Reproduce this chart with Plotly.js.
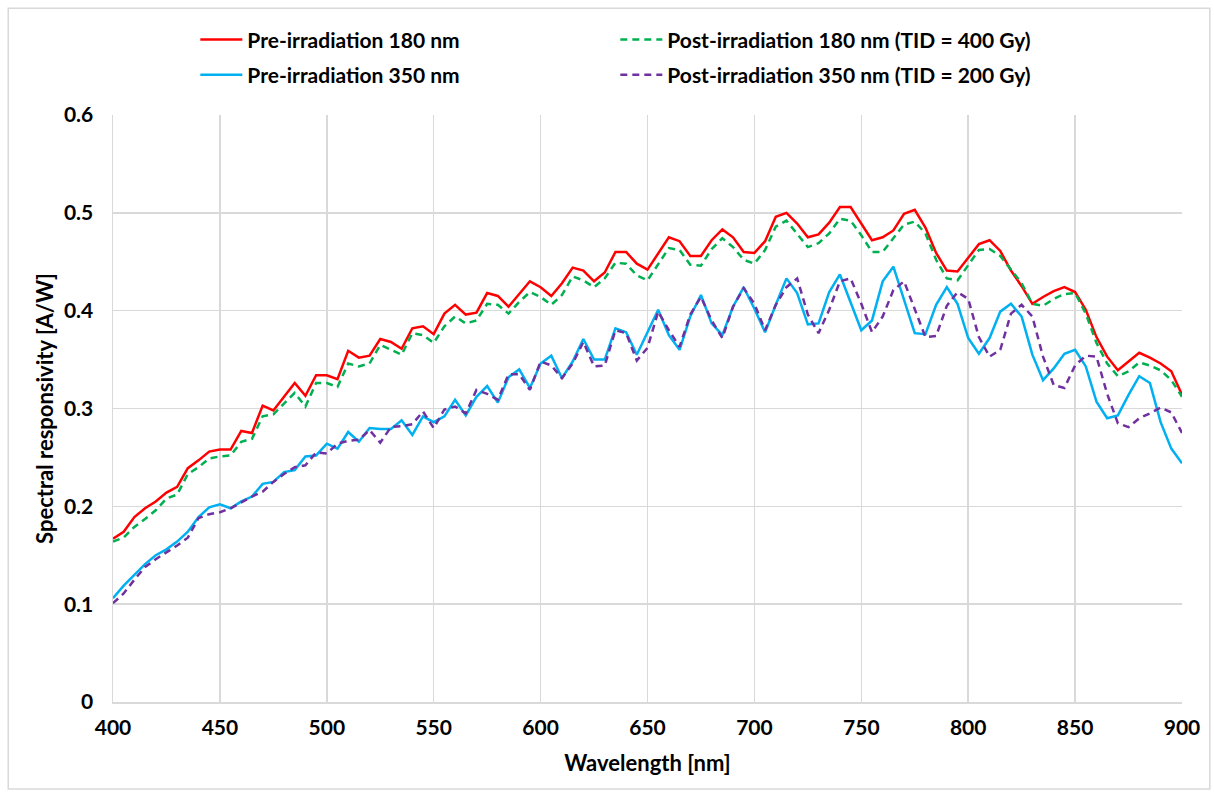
<!DOCTYPE html>
<html>
<head>
<meta charset="utf-8">
<script src="https://cdn.plot.ly/plotly-3.0.1.min.js"></script>
<style>
  html, body { margin: 0; padding: 0; background: #ffffff; }
  #chart { width: 1214px; height: 792px; }
</style>
</head>
<body>
<div id="chart"></div>
<script>
const wavelength = [400,405,410,415,420,425,430,435,440,445,450,455,460,465,470,475,480,485,490,495,
  500,505,510,515,520,525,530,535,540,545,550,555,560,565,570,575,580,585,590,595,
  600,605,610,615,620,625,630,635,640,645,650,655,660,665,670,675,680,685,690,695,
  700,705,710,715,720,725,730,735,740,745,750,755,760,765,770,775,780,785,790,795,
  800,805,810,815,820,825,830,835,840,845,850,855,860,865,870,875,880,885,890,895,900];

const pre180 = [0.167,0.174,0.189,0.198,0.205,0.214,0.220,0.239,0.247,0.256,0.258,0.258,0.277,0.275,0.303,0.298,0.312,0.326,0.313,0.334,
  0.334,0.330,0.359,0.352,0.354,0.371,0.368,0.361,0.382,0.384,0.376,0.397,0.406,0.396,0.398,0.418,0.415,0.404,0.417,0.430,
  0.424,0.415,0.428,0.444,0.441,0.430,0.439,0.460,0.460,0.448,0.442,0.459,0.475,0.471,0.456,0.456,0.472,0.483,0.475,0.460,
  0.459,0.471,0.496,0.500,0.489,0.475,0.478,0.490,0.506,0.506,0.489,0.472,0.475,0.482,0.499,0.503,0.485,0.459,0.441,0.440,
  0.454,0.468,0.472,0.461,0.441,0.425,0.407,0.414,0.420,0.424,0.419,0.401,0.373,0.353,0.339,0.348,0.357,0.352,0.346,0.338,0.314];

const post180 = [0.164,0.168,0.179,0.187,0.196,0.208,0.212,0.233,0.240,0.249,0.251,0.252,0.266,0.269,0.292,0.294,0.305,0.316,0.302,0.326,
  0.326,0.322,0.346,0.343,0.346,0.365,0.360,0.355,0.377,0.375,0.367,0.384,0.394,0.387,0.390,0.407,0.406,0.397,0.409,0.419,
  0.414,0.406,0.416,0.435,0.431,0.424,0.433,0.449,0.448,0.436,0.431,0.447,0.464,0.462,0.447,0.446,0.463,0.474,0.465,0.452,
  0.448,0.462,0.486,0.492,0.479,0.465,0.469,0.479,0.494,0.492,0.477,0.460,0.460,0.474,0.488,0.491,0.479,0.452,0.433,0.431,
  0.447,0.462,0.463,0.456,0.442,0.428,0.407,0.405,0.412,0.417,0.418,0.397,0.367,0.346,0.333,0.338,0.347,0.344,0.339,0.329,0.312];

const pre350 = [0.106,0.119,0.130,0.141,0.150,0.156,0.164,0.174,0.189,0.199,0.202,0.198,0.205,0.210,0.223,0.225,0.235,0.237,0.251,0.252,
  0.264,0.259,0.276,0.266,0.280,0.279,0.279,0.288,0.273,0.292,0.286,0.292,0.309,0.293,0.312,0.323,0.306,0.332,0.340,0.321,
  0.346,0.354,0.331,0.348,0.371,0.350,0.350,0.382,0.378,0.355,0.378,0.401,0.375,0.360,0.394,0.416,0.387,0.375,0.404,0.424,
  0.402,0.378,0.406,0.433,0.418,0.386,0.387,0.419,0.437,0.409,0.380,0.390,0.430,0.445,0.412,0.377,0.376,0.406,0.424,0.407,
  0.372,0.356,0.372,0.399,0.407,0.394,0.355,0.329,0.341,0.356,0.360,0.343,0.307,0.290,0.293,0.314,0.333,0.326,0.286,0.259,0.244];

const post350 = [0.101,0.111,0.125,0.138,0.146,0.153,0.160,0.168,0.188,0.192,0.194,0.198,0.204,0.210,0.215,0.225,0.233,0.240,0.242,0.255,
  0.254,0.264,0.267,0.268,0.278,0.265,0.281,0.282,0.284,0.297,0.280,0.299,0.302,0.295,0.319,0.315,0.309,0.335,0.335,0.319,
  0.348,0.344,0.331,0.346,0.368,0.343,0.344,0.380,0.377,0.349,0.362,0.399,0.380,0.363,0.396,0.414,0.390,0.372,0.404,0.423,
  0.407,0.380,0.406,0.424,0.433,0.396,0.377,0.401,0.430,0.433,0.407,0.378,0.394,0.421,0.430,0.402,0.373,0.374,0.405,0.419,
  0.412,0.373,0.353,0.360,0.397,0.406,0.394,0.353,0.324,0.321,0.344,0.354,0.353,0.315,0.285,0.281,0.290,0.295,0.301,0.296,0.275];

const seriesNames = ["Pre-irradiation 180 nm", "Post-irradiation 180 nm (TID = 400 Gy)",
                     "Pre-irradiation 350 nm", "Post-irradiation 350 nm (TID = 200 Gy)"];
const xTicks = [400,450,500,550,600,650,700,750,800,850,900];
const yTicks = [0,0.1,0.2,0.3,0.4,0.5,0.6];

const FONT = "Lato, 'Open Sans', sans-serif";
const dashPat = "7px,5px";

const traces = [
  {x: wavelength, y: pre180, name: seriesNames[0], type: "scatter", mode: "lines",
   line: {color: "#ff0000", width: 2.5}, legend: "legend"},
  {x: wavelength, y: post180, name: seriesNames[1], type: "scatter", mode: "lines",
   line: {color: "#00b050", width: 2.5, dash: dashPat}, legend: "legend"},
  {x: wavelength, y: pre350, name: seriesNames[2], type: "scatter", mode: "lines",
   line: {color: "#00b0f0", width: 2.5}, legend: "legend2"},
  {x: wavelength, y: post350, name: seriesNames[3], type: "scatter", mode: "lines",
   line: {color: "#7030a0", width: 2.5, dash: dashPat}, legend: "legend2"}
];

const legendCommon = {
  orientation: "h", x: 0.077, xanchor: "left", yanchor: "middle",
  entrywidth: 363, entrywidthmode: "pixels", itemwidth: 42,
  font: {family: FONT, size: 21, color: "#000000", weight: "bold"},
  bgcolor: "rgba(0,0,0,0)", borderwidth: 0, traceorder: "normal"
};

const tickFont = {family: FONT, size: 21, color: "#000000", weight: "bold"};
const titleFont = {family: FONT, size: 22, color: "#000000", weight: "bold"};

const layout = {
  width: 1214, height: 792,
  paper_bgcolor: "#ffffff", plot_bgcolor: "#ffffff",
  margin: {l: 113, r: 32, t: 115, b: 90},
  font: {family: FONT, size: 21, color: "#000000"},
  showlegend: true,
  legend: Object.assign({}, legendCommon, {y: 1.128}),
  legend2: Object.assign({}, legendCommon, {y: 1.068}),
  xaxis: {
    range: [400, 900], tickvals: xTicks, ticktext: xTicks.map(String),
    showgrid: true, gridcolor: "#d9d9d9", gridwidth: 1.5,
    showline: true, linecolor: "#d9d9d9", linewidth: 1.5, mirror: false,
    zeroline: false, ticks: "", ticklen: 0, ticklabelstandoff: 6,
    tickfont: tickFont,
    title: {text: "Wavelength [nm]", font: titleFont, standoff: 18}
  },
  yaxis: {
    range: [0, 0.6], tickvals: yTicks, ticktext: yTicks.map(String),
    showgrid: true, gridcolor: "#d9d9d9", gridwidth: 1.5,
    showline: true, linecolor: "#d9d9d9", linewidth: 1.5,
    zeroline: false, ticks: "", ticklen: 0, ticklabelstandoff: 14,
    tickfont: tickFont,
    title: {text: "Spectral responsivity [A/W]", font: titleFont, standoff: 4}
  },
  shapes: [{
    type: "rect", xref: "paper", yref: "paper",
    x0: -0.098, x1: 1.026, y0: -0.148, y1: 1.182,
    line: {color: "#d9d9d9", width: 1.5}, fillcolor: "rgba(0,0,0,0)", layer: "below"
  }]
};

Plotly.newPlot("chart", traces, layout, {displayModeBar: false, staticPlot: true});
</script>
</body>
</html>
